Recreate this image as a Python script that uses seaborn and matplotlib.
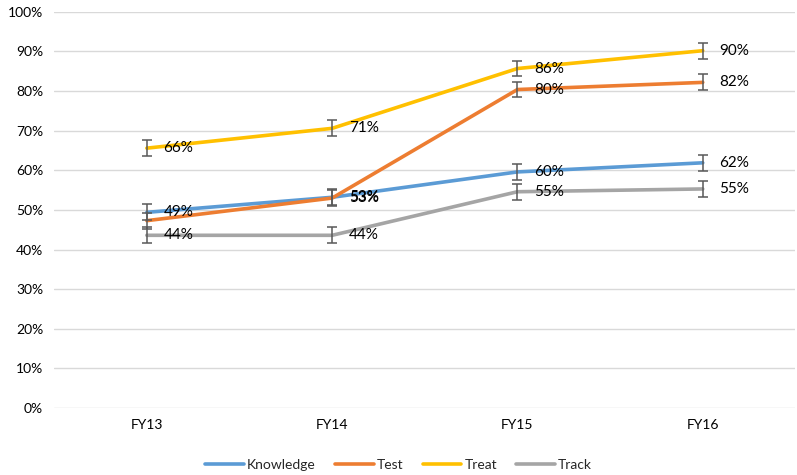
import pandas as pd
import matplotlib.pyplot as plt
import seaborn as sns

# Data
years = ["FY13", "FY14", "FY15", "FY16"]
knowledge = [49.4, 53.2, 59.6, 61.9]
test = [47.3, 53.0, 80.4, 82.2]
treat = [65.6, 70.6, 85.7, 90.2]
track = [43.6, 43.6, 54.6, 55.3]
err = 2.0
series_names = ["Knowledge", "Test", "Treat", "Track"]
colors = ["#5B9BD5", "#ED7D31", "#FFC000", "#A5A5A5"]
# which points carry a value label (Test FY13 has none in the reference)
show_label = {
    "Knowledge": [True, True, True, True],
    "Test": [False, True, True, True],
    "Treat": [True, True, True, True],
    "Track": [True, True, True, True],
}

sns.set_theme(style="white")
plt.rcParams["font.family"] = ["Lato", "DejaVu Sans"]

df = pd.DataFrame({
    "year": years * 4,
    "value": knowledge + test + treat + track,
    "series": [s for s in series_names for _ in years],
})

fig = plt.figure(figsize=(7.97, 4.75), dpi=100)
ax = fig.add_axes([0.068, 0.141, 0.93, 0.834])

sns.lineplot(data=df, x="year", y="value", hue="series", palette=colors,
             linewidth=2.6, ax=ax, legend=True, sort=False)

x = range(len(years))
for name, vals in zip(series_names, [knowledge, test, treat, track]):
    ax.errorbar(x, vals, yerr=err, fmt="none", ecolor="#595959",
                elinewidth=1.1, capsize=3.5, capthick=1.1, zorder=5)
    for xi, v, show in zip(x, vals, show_label[name]):
        if show:
            ax.annotate(f"{round(v):.0f}%", (xi, v), xytext=(12, 0),
                        textcoords="offset points", va="center", ha="left",
                        fontsize=11, color="#000000", zorder=6)

ax.set_ylim(0, 100)
ax.set_xlim(-0.5, 3.5)
ax.set_yticks(range(0, 101, 10))
ax.set_yticklabels([f"{t}%" for t in range(0, 101, 10)])
ax.grid(axis="y", color="#D9D9D9", linewidth=1)
ax.set_axisbelow(True)
for s in ax.spines.values():
    s.set_visible(False)
ax.tick_params(axis="both", length=0, labelsize=10, colors="#000000", pad=8)
ax.set_xlabel("")
ax.set_ylabel("")

handles, labels = ax.get_legend_handles_labels()
ax.get_legend().remove()
fig.legend(handles, labels, loc="lower center", bbox_to_anchor=(0.5, -0.018),
           ncol=4, frameon=False, fontsize=10, handlelength=2.8,
           handletextpad=0.2, columnspacing=1.4)

fig.savefig("out.png", dpi=100)
